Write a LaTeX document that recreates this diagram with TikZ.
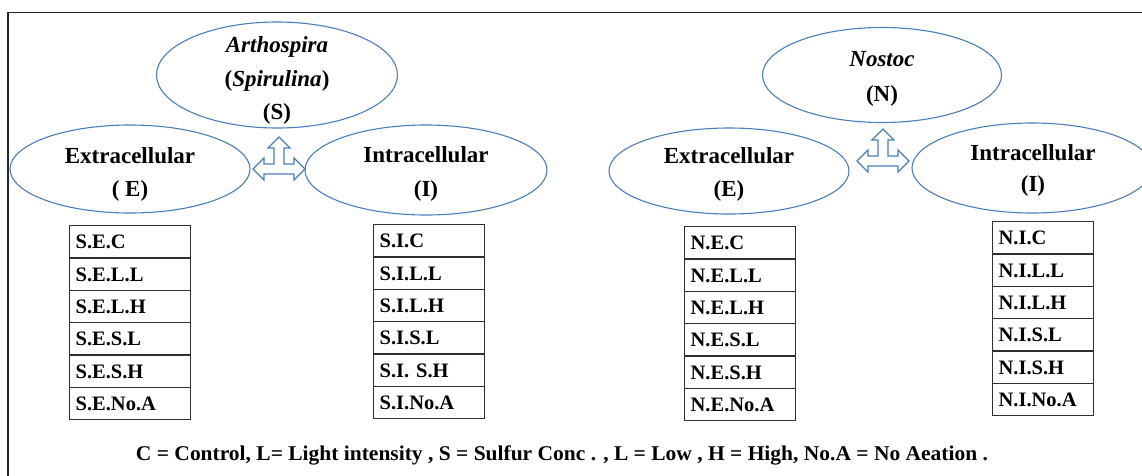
\documentclass[tikz,border=0pt]{standalone}
\usepackage{fontspec}
\setmainfont{Liberation Serif}
\usepackage{graphicx}
\usetikzlibrary{shapes.geometric}

\definecolor{ovalblue}{HTML}{4A7EBB}
\definecolor{cellline}{HTML}{303030}

\tikzset{
  oval/.style={ellipse, draw=ovalblue, line width=1.1pt, inner sep=0pt},
  ovaltext/.style={inner sep=0pt, align=center,
    font=\fontsize{23}{33.5}\selectfont\bfseries},
  cell/.style={rectangle, draw=cellline, line width=1.3pt, inner xsep=6pt,
    inner ysep=0pt, minimum height=32.3pt, align=left,
    text height=14pt, text depth=0pt,
    font=\fontsize{20.5}{24}\selectfont\bfseries},
  blockarrow/.style={draw=ovalblue, line width=1.1pt, fill=white, line join=miter},
  frame/.style={draw=black!85, line width=1.8pt},
}

% three-way block arrow (left, up, right) centred on the horizontal shaft
\newcommand{\threewayarrow}[1]{%
  \draw[blockarrow] (#1) ++(-26,0) -- ++(11,-11) -- ++(0,6) -- ++(10,0)
    -- ++(0,-16) -- ++(-6,0) -- ++(11,-11) -- ++(11,11) -- ++(-6,0)
    -- ++(0,16) -- ++(10,0) -- ++(0,-6) -- ++(11,11) -- ++(-11,11)
    -- ++(0,-6) -- ++(-30,0) -- ++(0,6) -- cycle;}

% column of six cells: name prefix, left x, top y, width, labels
\newcommand{\cellcolumn}[5]{%
  \foreach \lab [count=\k] in {#5} {
    \node[cell, anchor=north west, minimum width=#4pt, text width=#4pt-12pt]
      (#1\k) at (#2, {#3+(\k-1)*32.3}) {\lab};
  }}

\begin{document}
\begin{tikzpicture}[x=1pt, y=-1pt]
  \useasboundingbox (0,0) rectangle (1142,475);

  % outer frame (left and top edges)
  \coordinate (frameBL) at (8,476);
  \coordinate (frameTL) at (8,12.5);
  \coordinate (frameTR) at (1143,12.5);
  \draw[frame] (frameBL) -- (frameTL) -- (frameTR);

  % Arthospira group
  \node[oval, minimum width=241pt, minimum height=106pt] (sp) at (277,75) {};
  \node[ovaltext] (spT) at (277,80.5)
    {\itshape Arthospira\\(\textit{Spirulina})\\(S)};
  \node[oval, minimum width=240pt, minimum height=88pt] (spE) at (130,169) {};
  \node[ovaltext] (spET) at (130,174.5) {Extracellular\\( E)};
  \node[oval, minimum width=242pt, minimum height=90pt] (spI) at (426,170) {};
  \node[ovaltext] (spIT) at (426,174) {Intracellular\\(I)};
  \coordinate (spArrow) at (279,169);
  \threewayarrow{spArrow}

  % Nostoc group
  \node[oval, minimum width=239pt, minimum height=95pt] (no) at (882,75) {};
  \node[ovaltext, font=\fontsize{23}{35}\selectfont\bfseries] (noT) at (882,78.5)
    {\itshape Nostoc\\(N)};
  \node[oval, minimum width=240pt, minimum height=86pt] (noE) at (729,171) {};
  \node[ovaltext] (noET) at (729,174.5) {Extracellular\\(E)};
  \node[oval, minimum width=240pt, minimum height=90pt] (noI) at (1032,168) {};
  \node[ovaltext, font=\fontsize{23}{31.5}\selectfont\bfseries] (noIT) at (1033,170.5)
    {Intracellular\\(I)};
  \coordinate (noArrow) at (883,161);
  \threewayarrow{noArrow}

  % treatment columns
  \cellcolumn{se}{69}{225}{121}{S.E.C,S.E.L.L,S.E.L.H,S.E.S.L,S.E.S.H,S.E.No.A}
  \cellcolumn{si}{373}{224}{111}{S.I.C,S.I.L.L,S.I.L.H,S.I.S.L,S.I. S.H,S.I.No.A}
  \cellcolumn{ne}{684}{226}{111}{N.E.C,N.E.L.L,N.E.L.H,N.E.S.L,N.E.S.H,N.E.No.A}
  \cellcolumn{ni}{992}{221}{101}{N.I.C,N.I.L.L,N.I.L.H,N.I.S.L,N.I.S.H,N.I.No.A}

  % legend
  \node[inner sep=0pt, anchor=base, font=\fontsize{21}{24}\selectfont\bfseries]
    (legend) at (562,460)
    {\resizebox{852pt}{\height}{C = Control, L= Light intensity , S = Sulfur Conc . , L = Low , H = High, No.A = No Aeation .}};
\end{tikzpicture}
\end{document}
